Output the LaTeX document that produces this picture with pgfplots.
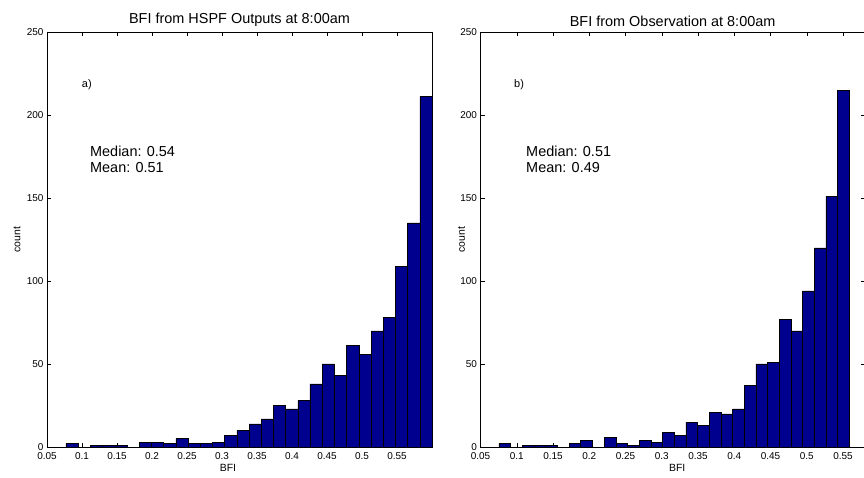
\documentclass[border=0pt]{standalone}
\usepackage{fontspec}
\setmainfont{Liberation Sans}
\usepackage{pgfplots}
\pgfplotsset{compat=1.18}
\definecolor{matblue}{RGB}{0,0,143}
\pgfplotsset{myhist/.style={
  scale only axis,
  xmin=0.05, ymin=0, ymax=250,
  height=415bp,
  ytick={0,50,100,150,200,250},
  yticklabels={0,50,100,150,200,250},
  xtick={0.05,0.1,0.15,0.2,0.25,0.3,0.35,0.4,0.45,0.5,0.55},
  xticklabels={0.05,0.1,0.15,0.2,0.25,0.3,0.35,0.4,0.45,0.5,0.55},
  tick align=inside, tick pos=both,
  major tick length=4bp,
  tick style={black, line width=0.5bp},
  axis line style={line width=0.6bp},
  ticklabel style={font=\fontsize{10}{12}\selectfont},
  xticklabel style={yshift=-2.5bp},
  /pgf/number format/assume math mode=true,
  title style={font=\fontsize{14.5}{17}\selectfont, yshift=-4bp},
  label style={font=\fontsize{10.5}{12}\selectfont},
  xlabel={BFI}, ylabel={count},
}}
\begin{document}
\begin{tikzpicture}
\useasboundingbox (0,0) rectangle (864bp,478bp);
% ---------------- left ----------------
\begin{axis}[myhist,
  at={(47bp,31bp)}, anchor=south west,
  width=385bp, xmax=0.6,
  title={BFI from HSPF Outputs at 8:00am},
  xlabel style={at={(axis description cs:0.470,-0.0506)}, anchor=center},
  ylabel style={at={(axis description cs:-0.0779,0.5)}, anchor=center},
]
\addplot[ybar interval, fill=matblue, draw=black, line width=0.5bp] table {
x y
0.0771 2
0.0945 0
0.1120 1
0.1294 1
0.1468 1
0.1643 0
0.1817 3
0.1991 3
0.2165 2
0.2340 5
0.2514 2
0.2688 2
0.2863 3
0.3037 7
0.3211 10
0.3386 14
0.3560 17
0.3734 25
0.3908 23
0.4083 28
0.4257 38
0.4431 50
0.4606 43
0.4780 61
0.4954 56
0.5129 70
0.5303 78
0.5477 109
0.5651 135
0.5826 211
0.6000 211
};
\node[anchor=west, inner sep=0, font=\fontsize{11}{13}\selectfont] at (axis cs:0.0996,218) {a)};
\node[anchor=base west, inner sep=0, font=\fontsize{14.5}{17}\selectfont] at (axis cs:0.1114,174.7) {Median: 0.54};
\node[anchor=base west, inner sep=0, font=\fontsize{14.5}{17}\selectfont] at (axis cs:0.1114,165.1) {Mean: 0.51};
\end{axis}
% ---------------- right ----------------
\begin{axis}[myhist,
  at={(480.5bp,31bp)}, anchor=south west,
  width=384.25bp, xmax=0.58,
  title={BFI from Observation at 8:00am},
  xlabel style={at={(axis description cs:0.512,-0.0506)}, anchor=center},
  ylabel style={at={(axis description cs:-0.0495,0.5)}, anchor=center},
]
\addplot[ybar interval, fill=matblue, draw=black, line width=0.5bp] table {
x y
0.0755 2
0.0916 0
0.1077 1
0.1238 1
0.1399 1
0.1560 0
0.1721 2
0.1882 4
0.2044 0
0.2205 6
0.2366 2
0.2527 1
0.2688 4
0.2849 3
0.3010 9
0.3171 7
0.3332 15
0.3493 13
0.3654 21
0.3815 20
0.3976 23
0.4137 37
0.4299 50
0.4460 51
0.4621 77
0.4782 70
0.4943 94
0.5104 120
0.5265 151
0.5426 215
0.5587 215
};
\node[anchor=west, inner sep=0, font=\fontsize{11}{13}\selectfont] at (axis cs:0.0962,218) {b)};
\node[anchor=base west, inner sep=0, font=\fontsize{14.5}{17}\selectfont] at (axis cs:0.1128,174.7) {Median: 0.51};
\node[anchor=base west, inner sep=0, font=\fontsize{14.5}{17}\selectfont] at (axis cs:0.1128,165.1) {Mean: 0.49};
\end{axis}
\end{tikzpicture}
\end{document}
